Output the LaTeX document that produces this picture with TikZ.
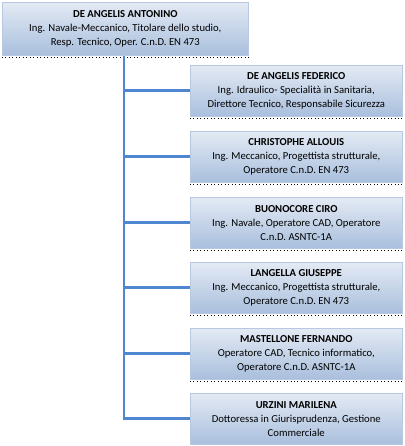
\documentclass[tikz,border=0pt]{standalone}
\usepackage{fontspec}
\setmainfont{Carlito}
\usetikzlibrary{calc}

\definecolor{boxtop}{HTML}{E3EAF4}
\definecolor{boxbot}{HTML}{A9BFDD}
\definecolor{boxedge}{HTML}{B7C8E0}
\definecolor{linkblue}{HTML}{4F86D2}

\tikzset{
  card/.style={draw=boxedge, top color=boxtop, bottom color=boxbot, align=center,
    inner sep=0pt, anchor=north west, minimum width=159pt, minimum height=38.25pt,
    font=\fontsize{8}{10.5}\selectfont},
  headcard/.style={card, minimum width=184.5pt, minimum height=39.75pt},
  link/.style={draw=linkblue, line width=2.2pt},
  shade line/.style={dotted, line width=0.6pt}
}

\begin{document}
\begin{tikzpicture}[x=0.75pt,y=-0.75pt]
    \useasboundingbox (0,0) rectangle (404,446);

    \node[headcard] (head) at (2,2) {\textbf{DE ANGELIS ANTONINO}\\Ing. Navale-Meccanico, Titolare dello studio,\\Resp. Tecnico, Oper. C.n.D. EN 473};

    \node[card] (u1) at (190,65) {\textbf{DE ANGELIS FEDERICO}\\Ing. Idraulico- Specialità in Sanitaria,\\Direttore Tecnico, Responsabile Sicurezza};
    \node[card] (u2) at (190,131) {\textbf{CHRISTOPHE ALLOUIS}\\Ing. Meccanico, Progettista strutturale,\\Operatore C.n.D. EN 473};
    \node[card] (u3) at (190,197) {\textbf{BUONOCORE CIRO}\\Ing. Navale, Operatore CAD, Operatore\\C.n.D. ASNTC-1A};
    \node[card] (u4) at (190,262) {\textbf{LANGELLA GIUSEPPE}\\Ing. Meccanico, Progettista strutturale,\\Operatore C.n.D. EN 473};
    \node[card] (u5) at (190,328) {\textbf{MASTELLONE FERNANDO}\\Operatore CAD, Tecnico informatico,\\Operatore C.n.D. ASNTC-1A};
    \node[card] (u6) at (190,393) {\textbf{URZINI MARILENA}\\Dottoressa in Giurisprudenza, Gestione\\Commerciale};

    % shadow under the boxes
    \foreach \n in {head,u1,u2,u3,u4,u5,u6}
      \draw[shade line] ($(\n.south west)+(0,1.5)$) -- ($(\n.south east)+(0,1.5)$);

    % connectors
    \coordinate (spine) at (124,0);
    \draw[link] (spine |- head.south) -- (spine |- u6.west);
    \foreach \n in {u1,u2,u3,u4,u5,u6}
      \draw[link] ($(spine |- \n.west)+(-1.5,0)$) -- (\n.west);
  \end{tikzpicture}
\end{document}
